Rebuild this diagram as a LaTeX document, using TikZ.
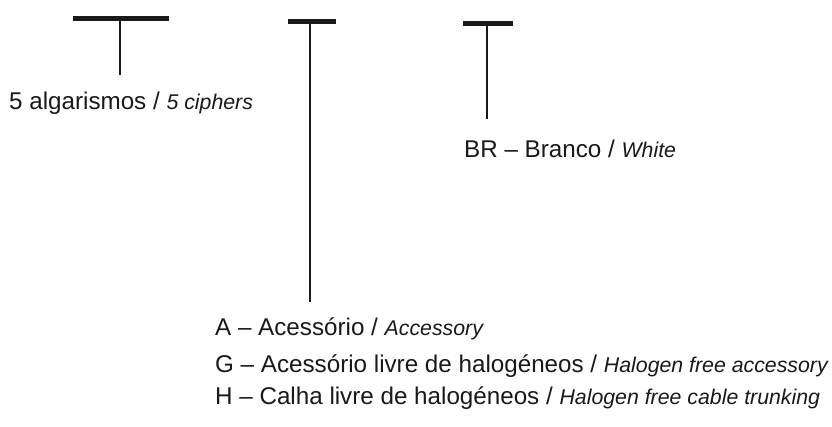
\documentclass[tikz,border=0pt]{standalone}
\usepackage{fontspec}
\setmainfont{Liberation Sans}
\begin{document}
\begin{tikzpicture}[x=1pt,y=-1pt,
  lbl/.style={anchor=base west,inner sep=0pt,font=\fontsize{24.2}{29}\selectfont,text=black!90},
  bar/.style={line width=5pt,draw=black!90},
  stem/.style={line width=2.4pt,draw=black!90}]
\useasboundingbox[fill=white] (0,0) rectangle (832,426);
\newcommand{\en}[1]{{\fontsize{21.3}{25}\selectfont\itshape #1}}
% T 1
\coordinate (b1l) at (73,18); \coordinate (b1r) at (169,18);
\coordinate (s1t) at (120,18); \coordinate (s1b) at (120,75);
\draw[bar] (b1l) -- (b1r);
\draw[stem] (s1t) -- (s1b);
% T 2
\coordinate (b2l) at (288,21); \coordinate (b2r) at (336,21);
\coordinate (s2t) at (310,21); \coordinate (s2b) at (310,302);
\draw[bar] (b2l) -- (b2r);
\draw[stem] (s2t) -- (s2b);
% T 3
\coordinate (b3l) at (463,23.3); \coordinate (b3r) at (513,23.3);
\coordinate (s3t) at (487,23.3); \coordinate (s3b) at (487,119);
\draw[bar] (b3l) -- (b3r);
\draw[stem] (s3t) -- (s3b);
% labels
\node[lbl] (t1) at (9,109) {5 algarismos / \en{5 ciphers}};
\node[lbl] (t3) at (464,157) {BR – Branco / \en{White}};
\node[lbl] (tA) at (215,335) {A – Acessório / \en{Accessory}};
\node[lbl] (tG) at (215,372) {G – Acessório livre de halogéneos / \en{Halogen free accessory}};
\node[lbl] (tH) at (215,404) {H – Calha livre de halogéneos / \en{Halogen free cable trunking}};
\end{tikzpicture}
\end{document}
